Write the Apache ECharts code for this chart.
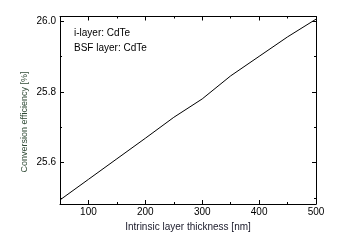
<!DOCTYPE html>
<html>
<head>
<meta charset="utf-8">
<script src="https://cdn.jsdelivr.net/npm/echarts@6/dist/echarts.min.js"></script>
<style>html,body{margin:0;padding:0;background:#fff;}#c{width:338px;height:242px;}</style>
</head>
<body>
<div id="c"></div>
<script>
var thickness = [50, 100, 150, 200, 250, 300, 350, 400, 450, 500];
var efficiency = [25.495, 25.553, 25.611, 25.669, 25.728, 25.780, 25.845, 25.900, 25.955, 26.005];
var xMajorTicks = [100, 200, 300, 400, 500];
var xMinorTicks = [150, 250, 350, 450];
var yMajorTicks = [25.6, 25.8, 26.0];
var yMinorTicks = [25.5, 25.7, 25.9];
var annotations = ['i-layer: CdTe', 'BSF layer: CdTe'];

var chart = echarts.init(document.getElementById('c'), null, {renderer: 'canvas'});
var FONT = 'Liberation Sans';
var xMin = 50, xMax = 500, yMin = 25.4835, yMax = 26.0125;

function xAx(pos, ticks, len, labels, line) {
  return {
    type: 'value', position: pos, min: xMin, max: xMax,
    splitLine: {show: false},
    axisLine: {show: line, lineStyle: {color: '#000', width: 1}},
    axisTick: {show: true, inside: true, length: len, customValues: ticks, lineStyle: {color: '#000', width: 1}},
    axisLabel: labels ? {show: true, customValues: ticks, color: '#000', fontFamily: FONT, fontSize: 10, margin: 3} : {show: false}
  };
}
function yAx(pos, ticks, len, labels, line) {
  return {
    type: 'value', position: pos, min: yMin, max: yMax,
    splitLine: {show: false},
    axisLine: {show: line, lineStyle: {color: '#000', width: 1}},
    axisTick: {show: true, inside: true, length: len, customValues: ticks, lineStyle: {color: '#000', width: 1}},
    axisLabel: labels ? {show: true, customValues: ticks, color: '#000', fontFamily: FONT, fontSize: 10, margin: 4,
      formatter: function (v) { return v.toFixed(1); }} : {show: false}
  };
}

var xAxes = [
  xAx('bottom', xMajorTicks, 4, true, true),
  xAx('bottom', xMinorTicks, 2, false, false),
  xAx('top', xMajorTicks, 4, false, true),
  xAx('top', xMinorTicks, 2, false, false)
];
xAxes[0].name = 'Intrinsic layer thickness [nm]';
xAxes[0].nameLocation = 'middle';
xAxes[0].nameGap = 17;
xAxes[0].nameTextStyle = {color: '#1a1a2a', fontFamily: FONT, fontSize: 10};

var yAxes = [
  yAx('left', yMajorTicks, 4, true, true),
  yAx('left', yMinorTicks, 2, false, false),
  yAx('right', yMajorTicks, 4, false, true),
  yAx('right', yMinorTicks, 2, false, false)
];

chart.setOption({
  animation: false,
  backgroundColor: '#fff',
  grid: {left: 60, right: 22, top: 16.5, bottom: 38, containLabel: false},
  xAxis: xAxes,
  yAxis: yAxes,
  graphic: [
    {type: 'text', x: 25, y: 122, rotation: Math.PI / 2,
      style: {text: 'Conversion efficiency [%]', fill: '#2f4a35', font: '9px "Liberation Sans"', align: 'center', verticalAlign: 'middle'}},
    {type: 'text', x: 74, y: 33,
      style: {text: annotations[0], fill: '#000', font: '10px "Liberation Sans"', align: 'left', verticalAlign: 'middle'}},
    {type: 'text', x: 74, y: 48,
      style: {text: annotations[1], fill: '#000', font: '10px "Liberation Sans"', align: 'left', verticalAlign: 'middle'}}
  ],
  series: [{
    type: 'line', xAxisIndex: 0, yAxisIndex: 0,
    data: thickness.map(function (t, i) { return [t, efficiency[i]]; }),
    showSymbol: false, symbol: 'none',
    lineStyle: {color: '#000', width: 1}
  }]
});
</script>
</body>
</html>
